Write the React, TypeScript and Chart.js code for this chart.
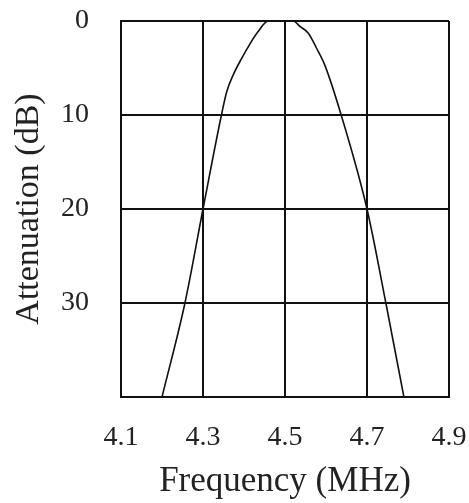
import React, { useEffect, useRef } from "react";
import { Chart, registerables } from "chart.js";

Chart.register(...registerables);

const freqMHz = [4.2, 4.256, 4.3, 4.345, 4.358, 4.374, 4.394, 4.415, 4.435, 4.459, 4.52, 4.537, 4.557, 4.577, 4.598, 4.637, 4.7, 4.746, 4.79];
const attenuationDb = [40, 30, 20, 10, 7.5, 5.7, 4.0, 2.4, 1.1, 0, 0, 0.6, 1.3, 2.9, 4.8, 10, 20, 30, 40];
const xTicks = [4.1, 4.3, 4.5, 4.7, 4.9];
const yTicks = [0, 10, 20, 30, 40];
const yTickLabels = ["0", "10", "20", "30", ""];
const xTitle = "Frequency (MHz)";
const yTitle = "Attenuation (dB)";

const FONT = "'Liberation Serif', 'Times New Roman', serif";

export default function App() {
  const ref = useRef<HTMLCanvasElement | null>(null);
  useEffect(() => {
    if (!ref.current) return;
    const chart = new Chart(ref.current, {
      type: "line",
      data: {
        datasets: [
          {
            data: freqMHz.map((f, i) => ({ x: f, y: attenuationDb[i] })),
            borderColor: "#111",
            borderWidth: 1.6,
            pointRadius: 0,
            cubicInterpolationMode: "monotone",
            fill: false,
          },
        ],
      },
      options: {
        animation: false,
        responsive: true,
        maintainAspectRatio: false,
        layout: { padding: { left: 0, top: 21, right: 20, bottom: 0 } },
        plugins: { legend: { display: false }, tooltip: { enabled: false } },
        scales: {
          x: {
            type: "linear",
            min: 4.1,
            max: 4.9,
            afterBuildTicks: (axis: any) => {
              axis.ticks = xTicks.map((v) => ({ value: v }));
            },
            ticks: {
              autoSkip: false,
              maxRotation: 0,
              padding: 0,
              color: "#222",
              font: { family: FONT, size: 28 },
              callback: (v: any) => Number(v).toFixed(1),
            },
            grid: { color: "#111", lineWidth: 2, drawTicks: true, tickLength: 24, tickColor: "rgba(0,0,0,0)" },
            border: { display: true, color: "#111", width: 2 },
            title: {
              display: true,
              text: xTitle,
              color: "#222",
              font: { family: FONT, size: 35 },
              padding: { top: 6.4, bottom: 0 },
            },
          },
          y: {
            type: "linear",
            reverse: true,
            min: 0,
            max: 40,
            afterBuildTicks: (axis: any) => {
              axis.ticks = yTicks.map((v) => ({ value: v }));
            },
            ticks: {
              autoSkip: false,
              padding: 0,
              color: "#222",
              font: { family: FONT, size: 28 },
              callback: (_v: any, i: number) => yTickLabels[i],
            },
            grid: { color: "#111", lineWidth: 2, drawTicks: true, tickLength: 32, tickColor: "rgba(0,0,0,0)" },
            border: { display: true, color: "#111", width: 2 },
            title: {
              display: true,
              text: yTitle,
              color: "#222",
              font: { family: FONT, size: 34 },
              padding: { top: 8.6, bottom: 11.6 },
            },
          },
        },
      },
    });
    return () => chart.destroy();
  }, []);
  return (
    <div style={{ position: "absolute", left: 0, top: 0, width: 469, height: 503, background: "#fff" }}>
      <canvas ref={ref} />
    </div>
  );
}
